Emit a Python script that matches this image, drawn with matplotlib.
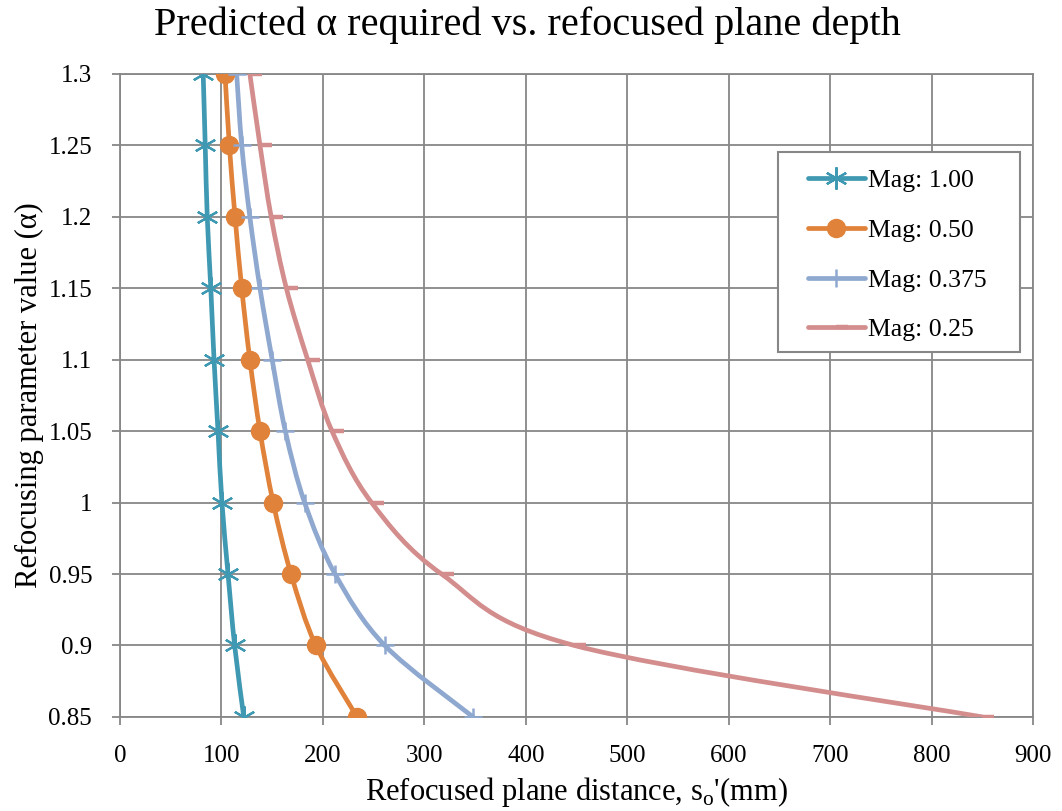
import matplotlib
matplotlib.use("Agg")
import matplotlib.pyplot as plt
import numpy as np
from matplotlib.path import Path
from matplotlib.patches import PathPatch, Rectangle
from matplotlib.lines import Line2D

# Data
alpha = [1.3, 1.25, 1.2, 1.15, 1.1, 1.05, 1.0, 0.95, 0.9, 0.85]
mag_100 = [82, 84, 86, 89.5, 92.7, 96.6, 100.5, 106.5, 113, 122]
mag_050 = [103.5, 107.8, 113.4, 120, 128, 138, 151, 168.6, 193, 233.6]
mag_0375 = [115, 120, 128, 138, 150, 163, 182, 212, 261, 348]
mag_025 = [128, 138, 149, 164, 185, 209, 248, 317, 448, 850]
labels = ['Mag: 1.00', 'Mag: 0.50', 'Mag: 0.375', 'Mag: 0.25']

x_ticks = list(range(0, 901, 100))
y_ticks = [0.85, 0.9, 0.95, 1.0, 1.05, 1.1, 1.15, 1.2, 1.25, 1.3]
y_ticklabels = ['0.85', '0.9', '0.95', '1', '1.05', '1.1', '1.15', '1.2', '1.25', '1.3']

plt.rcParams['font.family'] = ['Liberation Serif', 'DejaVu Serif']
plt.rcParams['mathtext.fontset'] = 'custom'
plt.rcParams['mathtext.rm'] = 'Liberation Serif'

GRID = '#878787'


def smooth_path(xs, ys):
    """Excel-like smoothed line: cubic Bezier through every data point."""
    pts = np.column_stack([xs, ys]).astype(float)
    n = len(pts)
    verts = [pts[0]]
    codes = [Path.MOVETO]
    for i in range(n - 1):
        p0 = pts[max(i - 1, 0)]
        p1 = pts[i]
        p2 = pts[i + 1]
        p3 = pts[min(i + 2, n - 1)]
        c1 = p1 + (p2 - p0) / 6.0
        c2 = p2 - (p3 - p1) / 6.0
        verts += [c1, c2, p2]
        codes += [Path.CURVE4] * 3
    return Path(verts, codes)


fig = plt.figure(figsize=(10.62, 8.11), dpi=100)
ax = fig.add_axes([0.113, 0.116, 0.8597, 0.7928])

# short dash drawn to the right of the point (Excel "dash" marker look)
dash_right = Path([(0, 0), (1, 0)], [Path.MOVETO, Path.LINETO])

styles = [
    dict(color='#4099B2', marker=(6, 2, 0), ms=16, mew=1.6, mfc='none'),
    dict(color='#E0823A', marker='o', ms=14, mew=0, mfc='#E0823A'),
    dict(color='#8FA8CF', marker='+', ms=13, mew=1.8, mfc='none'),
    dict(color='#D38D8D', marker=dash_right, ms=17, mew=3.2, mfc='none'),
]
series = [mag_100, mag_050, mag_0375, mag_025]

handles = []
for xs, st, lab in zip(series, styles, labels):
    patch = PathPatch(smooth_path(xs, alpha), fill=False, edgecolor=st['color'],
                      linewidth=3.4, capstyle='round', joinstyle='round', zorder=3)
    ax.add_patch(patch)
    ax.plot(xs, alpha, linestyle='none', marker=st['marker'], markersize=st['ms'],
            markeredgewidth=st['mew'], markeredgecolor=st['color'],
            markerfacecolor=st['mfc'], zorder=4)
    handles.append(Line2D([], [], color=st['color'], linewidth=3.4,
                          solid_capstyle='round', marker=st['marker'],
                          markersize=st['ms'], markeredgewidth=st['mew'],
                          markeredgecolor=st['color'], markerfacecolor=st['mfc']))

ax.set_xlim(0, 900)
ax.set_ylim(0.85, 1.3)
ax.set_xticks(x_ticks)
ax.set_yticks(y_ticks)
ax.set_yticklabels(y_ticklabels)
ax.grid(True, color=GRID, linewidth=1.3)
ax.set_axisbelow(True)
for sp in ax.spines.values():
    sp.set_color(GRID)
    sp.set_linewidth(1.3)
ax.tick_params(axis='both', direction='out', length=6, width=1.3, color=GRID,
               labelsize=18)
ax.tick_params(axis='x', pad=14)
ax.tick_params(axis='y', pad=14)

fig.suptitle('Predicted α required vs. refocused plane depth', fontsize=29,
             x=0.497, y=0.992, va='top')
ax.set_xlabel("Refocused plane distance, s$_\\mathregular{o}$'(mm)", fontsize=22, labelpad=6)
ax.set_ylabel('Refocusing parameter value (α)', fontsize=22, labelpad=3)

# legend box drawn separately so its padding can match the original
ax.add_patch(Rectangle((0.7207, 0.5677), 0.2651, 0.311, transform=ax.transAxes,
                       facecolor='white', edgecolor=GRID, linewidth=1.5, zorder=5))
leg = ax.legend(handles, labels, loc='upper left', bbox_to_anchor=(0.7536, 0.852),
                fontsize=18.5, frameon=False, handlelength=2.2, borderpad=0,
                borderaxespad=0, labelspacing=1.04, handletextpad=0.15)
leg.set_zorder(6)

fig.savefig('out.png', dpi=100)
